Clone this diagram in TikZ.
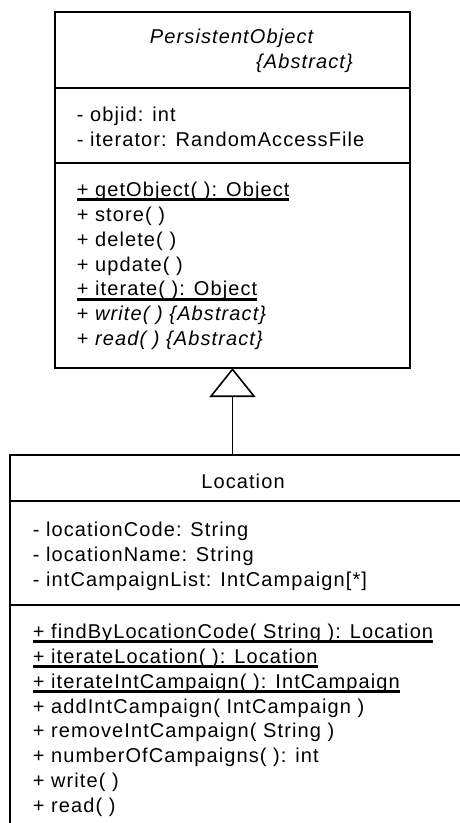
\documentclass[tikz,border=0pt]{standalone}
\usepackage{fontspec}
\setmainfont{Liberation Sans}[LetterSpace=5.5]
\usetikzlibrary{arrows.meta,positioning}
\newcommand{\ulin}[1]{\leavevmode\sbox0{#1}\rlap{\rule[-4.6pt]{\wd0}{3pt}}\usebox0}

\begin{document}
\begin{tikzpicture}[x=1pt,y=-1pt,line width=1.6pt,
  part/.style={draw,rectangle,inner sep=0pt,outer sep=0pt,anchor=north west},
  txt/.style={inner sep=0pt,align=left,font=\fontsize{20}{24.8}\selectfont},
  ttl/.style={inner sep=0pt,align=center,font=\fontsize{20}{24.8}\selectfont}]
  \clip (0,0) rectangle (460,823);
  \node[part,minimum width=355pt,minimum height=76pt] (ptitle) at (55,12) {};
  \node[part,minimum width=355pt,minimum height=75pt,below=0pt of ptitle] (pattr) {};
  \node[part,minimum width=355pt,minimum height=205pt,below=0pt of pattr] (pops) {};
  \node[part,minimum width=466pt,minimum height=46pt] (ltitle) at (10,455) {};
  \node[part,minimum width=466pt,minimum height=104pt,below=0pt of ltitle] (lattr) {};
  \node[part,minimum width=466pt,minimum height=240pt,below=0pt of lattr] (lops) {};

  \node[ttl,below=13.6pt of ptitle.north] (pname)
    {\strut\textit{PersistentObject}\\\hspace*{145pt}\textit{\{Abstract\}}};
  \node[txt,below right=15.6pt and 21pt of pattr.north west] (pfields)
    {\strut- objid: int\\- iterator: RandomAccessFile};
  \node[txt,below right=15.6pt and 21pt of pops.north west] (pmethods)
    {\strut\ulin{+ getObject( ): Object}\\+ store( )\\+ delete( )\\+ update( )\\
     \ulin{+ iterate( ): Object}\\+ \textit{write( ) \{Abstract\}}\\+ \textit{read( ) \{Abstract\}}};

  \node[ttl,below=15.6pt of ltitle.north] (lname) {\strut Location};
  \node[txt,below right=17.6pt and 22pt of lattr.north west] (lfields)
    {\strut- locationCode: String\\- locationName: String\\- intCampaignList: IntCampaign[*]};
  \node[txt,below right=15.6pt and 22pt of lops.north west] (lmethods)
    {\strut\ulin{+ findByLocationCode( String ): Location}\\\ulin{+ iterateLocation( ): Location}\\
     \ulin{+ iterateIntCampaign( ): IntCampaign}\\+ addIntCampaign( IntCampaign )\\
     + removeIntCampaign( String )\\+ numberOfCampaigns( ): int\\+ write( )\\+ read( )};

  \draw[-{Triangle[open,length=29pt,width=46pt]}] (ltitle.north -| pops.south) -- (pops.south);
\end{tikzpicture}
\end{document}
